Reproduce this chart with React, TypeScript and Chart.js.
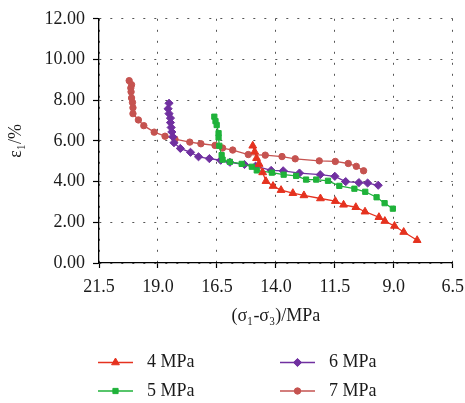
import React, { useEffect, useRef } from 'react';
import { Chart, registerables } from 'chart.js';
import { drawPoint } from 'chart.js/helpers';

Chart.register(...registerables);

const xTicks = [21.5, 19.0, 16.5, 14.0, 11.5, 9.0, 6.5];
const yTicks = [0, 2, 4, 6, 8, 10, 12];
const seriesLabels = ['4 MPa', '5 MPa', '6 MPa', '7 MPa'];

const stress4 = [14.98, 14.9, 14.82, 14.71, 14.56, 14.42, 14.12, 13.78, 13.28, 12.81, 12.11, 11.48, 11.13, 10.61, 10.22, 9.63, 9.38, 8.97, 8.58, 8.01];
const strain4 = [5.76, 5.47, 5.15, 4.86, 4.45, 4.02, 3.78, 3.58, 3.43, 3.32, 3.17, 3.04, 2.86, 2.74, 2.52, 2.25, 2.06, 1.82, 1.52, 1.12];

const stress5 = [16.61, 16.56, 16.51, 16.43, 16.43, 16.4, 16.3, 16.26, 15.95, 15.45, 15.02, 14.81, 14.17, 13.67, 13.14, 12.72, 12.29, 11.79, 11.31, 10.67, 10.21, 9.73, 9.39, 9.04];
const strain5 = [7.19, 6.97, 6.78, 6.38, 6.17, 5.76, 5.3, 5.08, 4.97, 4.87, 4.73, 4.55, 4.44, 4.34, 4.28, 4.1, 4.1, 4.04, 3.79, 3.65, 3.5, 3.23, 2.94, 2.67];

const stress6 = [18.53, 18.57, 18.53, 18.47, 18.47, 18.44, 18.41, 18.37, 18.32, 18.05, 17.62, 17.28, 16.82, 16.34, 15.95, 15.33, 14.86, 14.2, 13.69, 13.0, 12.12, 11.5, 11.04, 10.48, 10.11, 9.66];
const strain6 = [7.85, 7.58, 7.34, 7.12, 6.9, 6.66, 6.44, 6.2, 5.91, 5.63, 5.44, 5.22, 5.13, 5.05, 4.95, 4.84, 4.76, 4.55, 4.53, 4.42, 4.34, 4.26, 4.0, 3.95, 3.93, 3.82];

const stress7 = [20.22, 20.12, 20.15, 20.14, 20.12, 20.08, 20.06, 20.06, 19.83, 19.6, 19.16, 18.7, 18.28, 17.65, 17.18, 16.58, 16.26, 15.83, 15.17, 14.45, 13.74, 13.18, 12.16, 11.48, 10.93, 10.59, 10.28];
const strain7 = [8.96, 8.76, 8.6, 8.41, 8.11, 7.89, 7.63, 7.34, 7.03, 6.75, 6.43, 6.23, 6.09, 5.94, 5.86, 5.78, 5.65, 5.55, 5.33, 5.3, 5.23, 5.12, 5.02, 4.99, 4.89, 4.75, 4.53];

const seriesX = [stress4, stress5, stress6, stress7];
const seriesY = [strain4, strain5, strain6, strain7];
const colors = ['#e5321f', '#1fb23a', '#7030a0', '#c55350'];
const pointStyles = ['triangle', 'rect', 'rectRot', 'circle'];
const pointRadii = [4.5, 3.7, 4.1, 3.2];

const FONT_FAMILY = '"Liberation Serif", "Times New Roman", serif';
const TEXT = '#1a1a1a';

const legendPlugin = {
  id: 'gridLegend',
  afterDraw(chart: any) {
    const ctx = chart.ctx as CanvasRenderingContext2D;
    const slots = [
      { i: 0, x: 98, y: 362.5 },
      { i: 2, x: 280, y: 362.5 },
      { i: 1, x: 98, y: 391 },
      { i: 3, x: 280, y: 391 },
    ];
    ctx.save();
    for (const s of slots) {
      const c = colors[s.i];
      ctx.strokeStyle = c;
      ctx.fillStyle = c;
      ctx.lineWidth = 1.5;
      ctx.setLineDash([]);
      ctx.beginPath();
      ctx.moveTo(s.x, s.y);
      ctx.lineTo(s.x + 35, s.y);
      ctx.stroke();
      ctx.lineWidth = 1;
      drawPoint(ctx, { pointStyle: pointStyles[s.i], rotation: 0, radius: pointRadii[s.i], borderWidth: 1 } as any, s.x + 17.5, s.y);
      ctx.fillStyle = TEXT;
      ctx.font = `18px ${FONT_FAMILY}`;
      ctx.textBaseline = 'middle';
      ctx.textAlign = 'left';
      ctx.fillText(seriesLabels[s.i], s.x + 49, s.y);
    }
    ctx.restore();
  },
};

export default function App() {
  const canvasRef = useRef<HTMLCanvasElement | null>(null);

  useEffect(() => {
    if (!canvasRef.current) return;
    const font = { family: FONT_FAMILY, size: 18 };
    const datasets = seriesLabels.map((label, k) => ({
      label,
      data: seriesX[k].map((x, i) => ({ x, y: seriesY[k][i] })),
      showLine: true,
      borderColor: colors[k],
      backgroundColor: colors[k],
      borderWidth: 1.3,
      pointStyle: pointStyles[k],
      pointRadius: pointRadii[k],
      pointBorderWidth: 1,
      pointBackgroundColor: colors[k],
      pointBorderColor: colors[k],
      tension: 0,
    }));
    const chart = new Chart(canvasRef.current, {
      type: 'scatter',
      data: { datasets },
      plugins: [legendPlugin],
      options: {
        animation: false,
        responsive: false,
        maintainAspectRatio: false,
        devicePixelRatio: 1,
        layout: { padding: { top: 16, right: 12, left: 0, bottom: 0 } },
        plugins: { legend: { display: false }, tooltip: { enabled: false } },
        scales: {
          x: {
            type: 'linear',
            reverse: true,
            min: 6.5,
            max: 21.5,
            afterBuildTicks: (s: any) => {
              s.ticks = xTicks.map((v) => ({ value: v }));
            },
            afterFit: (s: any) => {
              s.height = 140;
            },
            ticks: {
              font: { family: FONT_FAMILY, size: 18, lineHeight: 2.05 },
              color: TEXT,
              padding: 1,
              maxRotation: 0,
              autoSkip: false,
              callback: (v: any) => Number(v).toFixed(1),
            },
            grid: { color: '#555', lineWidth: 1, tickLength: 5, tickColor: '#000', tickWidth: 1.2 },
            border: { display: true, color: '#000', width: 1.3, dash: [2, 9] },
            title: {
              display: true,
              text: '(σ₁-σ₃)/MPa',
              font,
              color: TEXT,
              padding: { top: 0, bottom: 76 },
            },
          },
          y: {
            type: 'linear',
            min: 0,
            max: 12,
            afterBuildTicks: (s: any) => {
              s.ticks = yTicks.map((v) => ({ value: v }));
            },
            afterFit: (s: any) => {
              s.width = 99;
            },
            ticks: {
              font,
              color: TEXT,
              padding: 8,
              callback: (v: any) => Number(v).toFixed(2),
            },
            grid: { color: '#555', lineWidth: 1, tickLength: 6, tickColor: '#000', tickWidth: 1.2 },
            border: { display: true, color: '#000', width: 1.3, dash: [2, 9] },
            title: {
              display: true,
              text: 'ε₁/%',
              font,
              color: TEXT,
              padding: { top: 5, bottom: 0 },
            },
          },
        },
      } as any,
    });
    return () => chart.destroy();
  }, []);

  return (
    <div style={{ position: 'fixed', left: 0, top: 0, width: 465, height: 403, background: '#fff' }}>
      <canvas ref={canvasRef} width={465} height={403} style={{ display: 'block', width: 465, height: 403 }} />
    </div>
  );
}
